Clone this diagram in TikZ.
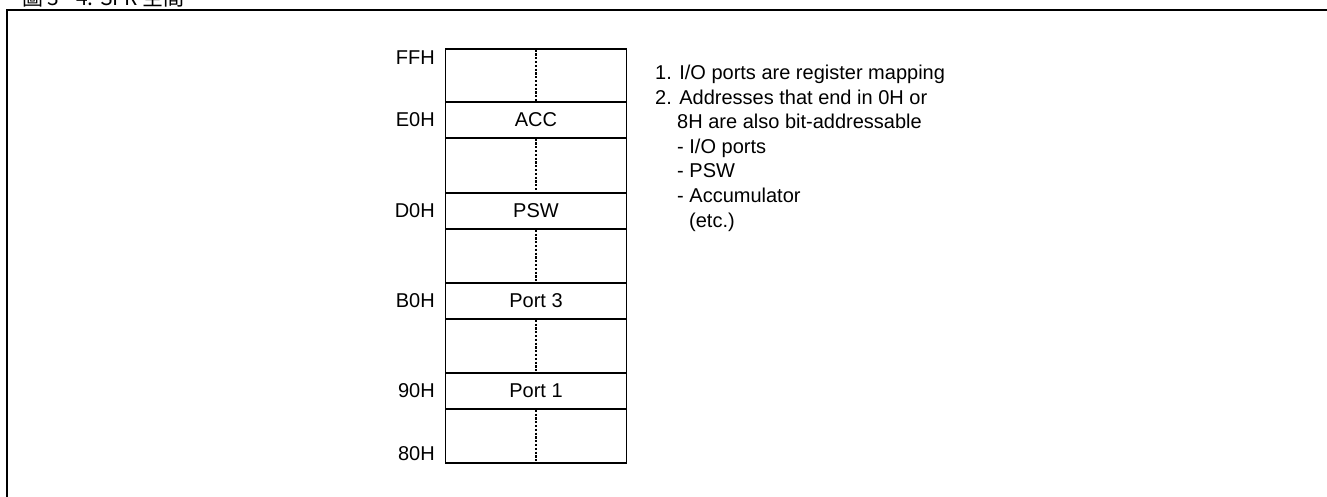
\documentclass[tikz,border=0pt]{standalone}
\usepackage{fontspec}
\setmainfont{Liberation Sans}
\newfontfamily\cjkfont{Noto Sans CJK TC}
\begin{document}
\begin{tikzpicture}[x=1pt,y=-1pt,
  cell/.style={draw=black,line width=1.6pt,minimum width=181pt,inner sep=0pt,
    font=\fontsize{20}{24}\selectfont},
  addr/.style={anchor=east,inner sep=0pt,font=\fontsize{20}{24}\selectfont},
  note/.style={anchor=base west,inner sep=0pt,font=\fontsize{20}{24}\selectfont},
  dotline/.style={line width=1.2pt,dash pattern=on 2.2pt off 1.6pt},
  frameline/.style={line width=2.6pt}]
\useasboundingbox (0,0) rectangle (1327,497);
\clip (0,0) rectangle (1327,497);
% caption (cut at top edge, as in the reference)
\node[anchor=base west,inner sep=0pt,font=\cjkfont\fontsize{21}{25}\selectfont] (cap) at (22,5.5) {圖 3 - 4. SFR 空間};
% frame
\draw[frameline] (7,520) -- (7,10) -- (1340,10);
% memory column
\node[cell,minimum height=53pt] (rFF) at (536,75.5) {};
\node[cell,minimum height=36pt] (rE0) at (536,120) {ACC};
\node[cell,minimum height=55pt] (rD8) at (536,165.5) {};
\node[cell,minimum height=36pt] (rD0) at (536,211) {PSW};
\node[cell,minimum height=54pt] (rB8) at (536,256) {};
\node[cell,minimum height=36pt] (rB0) at (536,301) {Port 3};
\node[cell,minimum height=54pt] (rA0) at (536,346) {};
\node[cell,minimum height=36pt] (r90) at (536,391) {Port 1};
\node[cell,minimum height=54pt] (r80) at (536,436) {};
% dotted separators
\foreach \r in {rFF,rD8,rB8,rA0,r80}
  \draw[dotline] ([yshift=-1.5pt]\r.north) -- ([yshift=1pt]\r.south);
% address labels
\node[addr] (aFF) at (435,58) {FFH};
\node[addr] (aE0) at (435,120) {E0H};
\node[addr] (aD0) at (435,211) {D0H};
\node[addr] (aB0) at (435,301) {B0H};
\node[addr] (a90) at (435,391) {90H};
\node[addr] (a80) at (435,454) {80H};
% notes
\node[note] (n1) at (655,80) {1. I/O ports are register mapping};
\node[note] (n2) at (655,104.5) {2. Addresses that end in 0H or};
\node[note] (n3) at (677,129) {8H are also bit-addressable};
\node[note] (n4) at (677,153.5) {- I/O ports};
\node[note] (n5) at (677,178) {- PSW};
\node[note] (n6) at (677,202.5) {- Accumulator};
\node[note] (n7) at (689,227) {(etc.)};
\end{tikzpicture}
\end{document}
